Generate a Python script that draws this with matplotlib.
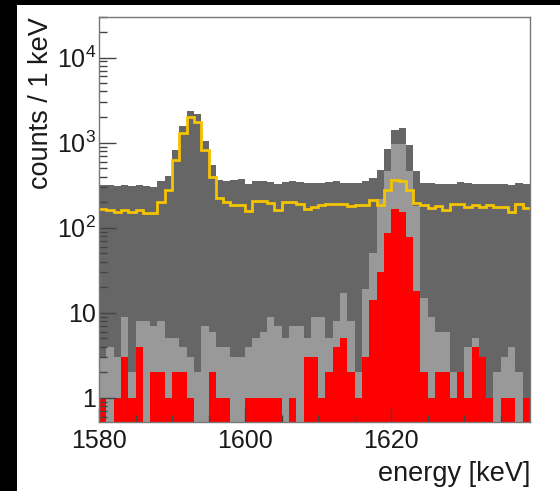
import numpy as np
import matplotlib
matplotlib.use("Agg")
import matplotlib.pyplot as plt
from matplotlib.patches import Rectangle
from matplotlib.ticker import FixedLocator, MultipleLocator, NullFormatter

plt.rcParams['font.family'] = ['Liberation Sans', 'DejaVu Sans']
plt.rcParams['mathtext.fontset'] = 'custom'
plt.rcParams['mathtext.rm'] = 'Liberation Sans'
plt.rcParams['mathtext.it'] = 'Liberation Sans'

# 1 keV bins from 1580 to 1639 keV
bin_edges = np.arange(1580, 1640, 1)

# all events
counts_all = [318, 318, 309, 318, 309, 318, 309, 298, 350, 410,
              830, 1550, 2330, 2150, 1040, 545, 368, 357, 362, 375,
              325, 350, 350, 345, 330, 345, 350, 345, 340, 340,
              340, 345, 350, 340, 340, 340, 355, 380, 475, 840,
              1410, 1490, 950, 465, 340, 340, 330, 330, 330, 345,
              340, 330, 330, 330, 330, 330, 315, 335, 330]

# first selection
counts_sel = [3, 4, 3, 9, 2, 8, 8, 7, 8, 5,
              5, 4, 3, 2, 7, 6, 4, 4, 3, 3,
              4, 5, 6, 9, 7, 5, 7, 7, 5, 9,
              9, 5, 8, 17, 8, 2, 19, 50, 220, 470,
              960, 960, 470, 180, 15, 9, 6, 6, 2, 2,
              4, 5, 3, 1, 2, 3, 4, 2, 1]

# final selection
counts_final = [1, 0, 1, 3, 1, 4, 0, 2, 2, 1,
                2, 2, 1, 0, 0, 2, 1, 1, 0, 0,
                1, 1, 1, 1, 1, 0, 1, 0, 3, 3,
                1, 2, 4, 5, 2, 1, 3, 14, 30, 86,
                165, 155, 78, 18, 2, 1, 2, 2, 1, 2,
                1, 4, 3, 1, 0, 1, 1, 0, 1]

# reference spectrum (outline)
counts_ref = [165, 162, 155, 160, 155, 160, 150, 150, 200, 275,
              630, 1290, 2020, 1770, 820, 390, 225, 200, 186, 185,
              158, 206, 206, 197, 161, 202, 198, 192, 165, 177,
              183, 188, 188, 188, 180, 183, 183, 212, 185, 280,
              363, 350, 275, 193, 185, 169, 182, 161, 188, 188,
              177, 183, 173, 183, 177, 177, 155, 188, 170]

xticks = [1580, 1600, 1620]
yticks = [1, 10, 100, 1000, 10000]
ytick_labels = ['1', '10', '$10^{2}$', '$10^{3}$', '$10^{4}$']

W, H = 560, 491
fig = plt.figure(figsize=(W / 100, H / 100), dpi=100, facecolor='white')
fig.patches.append(Rectangle((0, 0), 17 / W, 1, transform=fig.transFigure,
                             facecolor='black', edgecolor='none', zorder=-1))
fig.patches.append(Rectangle((0, 1 - 5 / H), 1, 5 / H, transform=fig.transFigure,
                             facecolor='black', edgecolor='none', zorder=-1))

ax = fig.add_axes([99 / W, (H - 422) / H, (530 - 99) / W, (422 - 17) / H])
ax.set_yscale('log')

base = 1e-3
def filled(vals, color):
    v = np.asarray(vals, dtype=float)
    v = np.where(v > 0, v, base)
    ax.stairs(v, bin_edges, fill=True, baseline=base, color=color,
              linewidth=0, antialiased=False)

filled(counts_all, '#666666')
filled(counts_sel, '#999999')
filled(counts_final, '#ff0000')
ax.stairs(counts_ref, bin_edges, baseline=None, color='#f5c400', linewidth=2.0)

ax.set_xlim(1580, 1639)
ax.set_ylim(0.52, 3.0e4)

ax.xaxis.set_major_locator(FixedLocator(xticks))
ax.xaxis.set_minor_locator(MultipleLocator(5))
ax.set_yticks(yticks)
ax.set_yticklabels(ytick_labels)
ax.yaxis.set_minor_formatter(NullFormatter())

ax.tick_params(axis='both', which='both', direction='in', top=False, right=False,
               colors='#444444', labelcolor='#1a1a1a', labelsize=18)
ax.tick_params(axis='y', which='major', length=12, width=1)
ax.tick_params(axis='y', which='minor', length=6, width=1)
ax.tick_params(axis='x', which='major', length=10, width=1, pad=5)
ax.tick_params(axis='x', which='minor', length=5, width=1)
ax.tick_params(axis='y', which='major', pad=2)

for s in ax.spines.values():
    s.set_color('#777777')
    s.set_linewidth(1.0)
    s.set_zorder(5)
ax.set_axisbelow(False)

ax.set_xlabel('energy [keV]', fontsize=19.5, color='#1a1a1a', loc='right', labelpad=6)
ax.set_ylabel('counts / 1 keV', fontsize=19.5, color='#1a1a1a', loc='top', labelpad=2)

fig.savefig('out.png', dpi=100, facecolor=fig.get_facecolor())
